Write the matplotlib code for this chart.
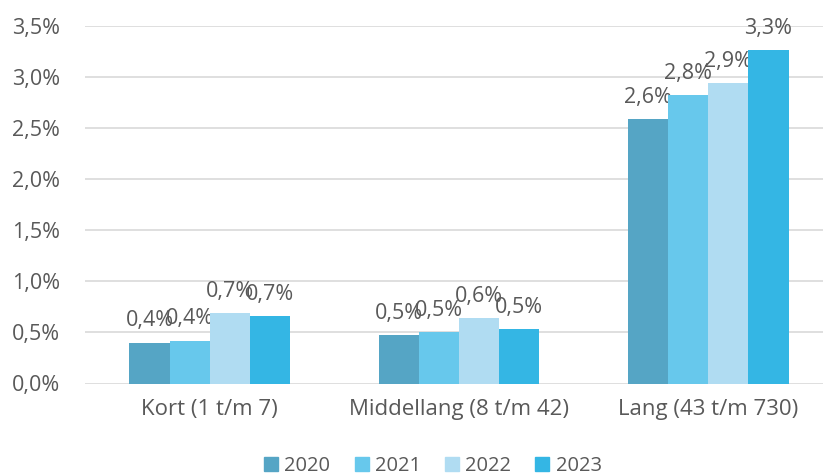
import numpy as np
import matplotlib.pyplot as plt
from matplotlib.patches import Patch

# categories and values (percent)
categories = ['Kort (1 t/m 7)', 'Middellang (8 t/m 42)', 'Lang (43 t/m 730)']
years = ['2020', '2021', '2022', '2023']
values = {
    '2020': [0.40, 0.47, 2.59],
    '2021': [0.42, 0.50, 2.82],
    '2022': [0.69, 0.64, 2.94],
    '2023': [0.66, 0.53, 3.26],
}
colors = ['#55A5C5', '#67C8EC', '#B0DCF2', '#34B6E4']
yticks = [0.0, 0.5, 1.0, 1.5, 2.0, 2.5, 3.0, 3.5]

plt.rcParams['font.family'] = ['Open Sans', 'DejaVu Sans']
grey = '#595959'

fig = plt.figure(figsize=(8.23, 4.76), dpi=100)
# axes runs a bit past the right edge, like the original
ax = fig.add_axes([85 / 823, 92.5 / 476, 748 / 823, 357.8 / 476])

x = np.arange(len(categories))
w = 0.161
for i, yr in enumerate(years):
    pos = x + (i - 1.5) * w
    bars = ax.bar(pos, values[yr], width=w, color=colors[i], zorder=3)
    for b, v in zip(bars, values[yr]):
        ax.annotate(f'{v:.1f}%'.replace('.', ','),
                    (b.get_x() + b.get_width() / 2, v),
                    xytext=(0, 8), textcoords='offset points',
                    ha='center', va='bottom', fontsize=15.5, color=grey)

ax.set_xlim(-0.5, 2.5)
ax.set_ylim(0, 3.5)
ax.set_yticks(yticks)
ax.set_yticklabels([f'{t:.1f}%'.replace('.', ',') for t in yticks])
ax.set_xticks(x)
ax.set_xticklabels(categories)
ax.tick_params(axis='both', length=0, labelcolor=grey)
ax.tick_params(axis='y', pad=18, labelsize=15.5)
ax.tick_params(axis='x', pad=11, labelsize=16)
ax.yaxis.grid(True, color='#D9D9D9', linewidth=1.2, zorder=0)
for s in ax.spines.values():
    s.set_visible(False)

handles = [Patch(color=c, label=y) for c, y in zip(colors, years)]
fig.legend(handles=handles, loc='center', bbox_to_anchor=(433 / 823, 1 - 466 / 476),
           ncol=4, frameon=False, fontsize=14.5, labelcolor=grey,
           handlelength=0.7, handleheight=0.7, handletextpad=0.3, columnspacing=1.2)

plt.savefig('out.png', dpi=100)
